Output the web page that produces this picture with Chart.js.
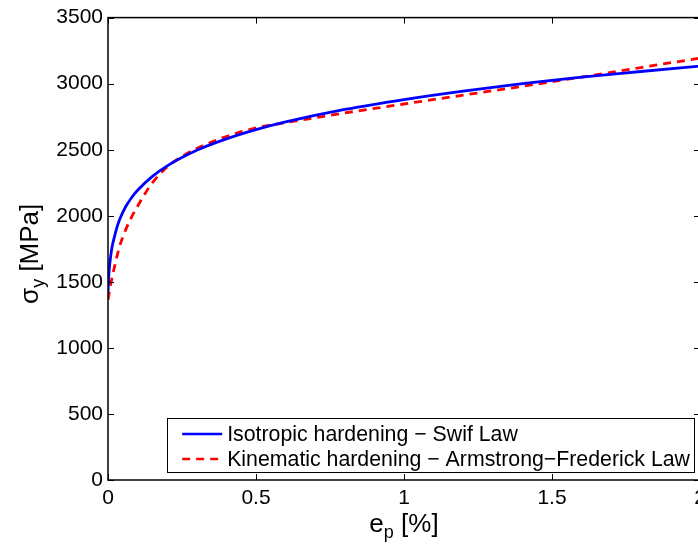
<!DOCTYPE html>
<html>
<head>
<meta charset="utf-8">
<script src="https://cdn.jsdelivr.net/npm/chart.js@4/dist/chart.umd.min.js"></script>
<style>
html,body{margin:0;padding:0;overflow:hidden;background:#fff;width:698px;height:548px}
#wrap{width:720px;height:548px;position:relative}
canvas{display:block}
</style>
</head>
<body>
<div id="wrap"><canvas id="c" width="720" height="548"></canvas></div>
<script>
// ---- data ----
const xTickLabels = ['0', '0.5', '1', '1.5', '2'];
const yTickLabels = ['0', '500', '1000', '1500', '2000', '2500', '3000', '3500'];

const seriesNames = ['Isotropic hardening \u2212 Swif Law', 'Kinematic hardening \u2212 Armstrong\u2212Frederick Law'];

const strainIso = [0, 0.003, 0.006, 0.01, 0.015, 0.02, 0.03, 0.04, 0.06, 0.08, 0.1, 0.15, 0.2, 0.3, 0.4, 0.5, 0.6, 0.8, 1.0, 1.2, 1.4, 1.6, 1.8, 2.0];
const stressIso = [1420, 1555, 1635, 1710, 1778, 1825, 1910, 1975, 2070, 2138, 2193, 2298, 2378, 2496, 2582, 2652, 2710, 2805, 2880, 2944, 3000, 3050, 3092, 3133];

const strainKin = [0, 0.005, 0.01, 0.02, 0.03, 0.04, 0.06, 0.08, 0.1, 0.12, 0.15, 0.2, 0.25, 0.3, 0.35, 0.4, 0.5, 0.6, 0.7, 0.8, 1.0, 1.2, 1.4, 1.6, 1.8, 2.0];
const stressKin = [1365, 1430, 1490, 1595, 1690, 1775, 1895, 1992, 2072, 2150, 2250, 2370, 2448, 2510, 2558, 2600, 2665, 2705, 2742, 2778, 2846, 2913, 2980, 3050, 3122, 3193];

const seriesColors = ['#0000ff', '#ff0000'];

const FONT = '"Liberation Sans", Arial, Helvetica, sans-serif';

function toPoints(xs, ys) { return xs.map((x, i) => ({x: x, y: ys[i]})); }

// ---- plugin: box, inward ticks, axis titles with subscripts, legend ----
const matlabDecor = {
  id: 'matlabDecor',
  afterDatasetsDraw(chart) {
    const ctx = chart.ctx;
    const a = chart.chartArea;
    const xs = chart.scales.x, ys = chart.scales.y;
    ctx.save();
    // inward ticks
    ctx.strokeStyle = '#000';
    ctx.lineWidth = 1;
    const tl = 6;
    xs.ticks.forEach(t => {
      const px = Math.round(xs.getPixelForValue(t.value)) + 0.5;
      ctx.beginPath();
      ctx.moveTo(px, a.bottom); ctx.lineTo(px, a.bottom - tl);
      ctx.moveTo(px, a.top); ctx.lineTo(px, a.top + tl);
      ctx.stroke();
    });
    ys.ticks.forEach(t => {
      const py = Math.round(ys.getPixelForValue(t.value)) + 0.5;
      ctx.beginPath();
      ctx.moveTo(a.left, py); ctx.lineTo(a.left + tl, py);
      ctx.moveTo(a.right, py); ctx.lineTo(a.right - tl, py);
      ctx.stroke();
    });
    // box
    ctx.lineWidth = 1.5;
    ctx.strokeStyle = '#000';
    ctx.strokeRect(a.left, a.top, a.right - a.left, a.bottom - a.top);

    // legend
    ctx.font = '21.3px ' + FONT;
    const tw = Math.max(...seriesNames.map(s => ctx.measureText(s).width));
    const boxRight = a.right - 6;
    const boxBottom = a.bottom - 8;
    const boxH = 54;
    const sampleLen = 40, padL = 15, gap = 5, padR = 4;
    const boxW = padL + sampleLen + gap + tw + padR;
    const boxLeft = boxRight - boxW;
    const boxTop = boxBottom - boxH;
    ctx.fillStyle = '#fff';
    ctx.fillRect(boxLeft, boxTop, boxW, boxH);
    ctx.lineWidth = 1;
    ctx.strokeStyle = '#000';
    ctx.strokeRect(Math.round(boxLeft) + 0.5, Math.round(boxTop) + 0.5, Math.round(boxW), Math.round(boxH));
    const rowY = [boxTop + 16, boxTop + 41];
    chart.data.datasets.forEach((ds, i) => {
      const y = rowY[i];
      ctx.beginPath();
      ctx.setLineDash(ds.borderDash || []);
      ctx.strokeStyle = ds.borderColor;
      ctx.lineWidth = 2.6;
      ctx.moveTo(boxLeft + padL, y);
      ctx.lineTo(boxLeft + padL + sampleLen, y);
      ctx.stroke();
      ctx.setLineDash([]);
      ctx.fillStyle = '#000';
      ctx.textBaseline = 'middle';
      ctx.textAlign = 'left';
      ctx.fillText(ds.label, boxLeft + padL + sampleLen + gap, y + 1);
    });

    // y axis title: sigma_y [MPa]
    ctx.fillStyle = '#000';
    ctx.textBaseline = 'alphabetic';
    ctx.save();
    const cy = (a.top + a.bottom) / 2 + 5;
    ctx.translate(38, cy);
    ctx.rotate(-Math.PI / 2);
    const big = '26px ' + FONT, small = '18px ' + FONT;
    ctx.font = big; const w1 = ctx.measureText('\u03c3').width;
    ctx.font = small; const w2 = ctx.measureText('y').width;
    ctx.font = big; const w3 = ctx.measureText(' [MPa]').width;
    let x0 = -(w1 + w2 + w3) / 2;
    ctx.font = big; ctx.fillText('\u03c3', x0, 0);
    ctx.font = small; ctx.fillText('y', x0 + w1, 6);
    ctx.font = big; ctx.fillText(' [MPa]', x0 + w1 + w2, 0);
    ctx.restore();

    // x axis title: e_p [%]
    const cx = (a.left + a.right) / 2;
    const by = a.bottom + 52;
    ctx.font = big; const v1 = ctx.measureText('e').width;
    ctx.font = small; const v2 = ctx.measureText('p').width;
    ctx.font = big; const v3 = ctx.measureText(' [%]').width;
    let sx = cx - (v1 + v2 + v3) / 2;
    ctx.font = big; ctx.fillText('e', sx, by);
    ctx.font = small; ctx.fillText('p', sx + v1, by + 6);
    ctx.font = big; ctx.fillText(' [%]', sx + v1 + v2, by);
    ctx.restore();
  }
};

new Chart(document.getElementById('c'), {
  type: 'line',
  data: {
    datasets: [
      {
        label: seriesNames[0],
        data: toPoints(strainIso, stressIso),
        borderColor: seriesColors[0],
        backgroundColor: seriesColors[0],
        borderWidth: 2.8,
        pointRadius: 0,
        fill: false,
        cubicInterpolationMode: 'monotone'
      },
      {
        label: seriesNames[1],
        data: toPoints(strainKin, stressKin),
        borderColor: seriesColors[1],
        backgroundColor: seriesColors[1],
        borderWidth: 2.8,
        borderDash: [8, 6],
        pointRadius: 0,
        fill: false,
        cubicInterpolationMode: 'monotone'
      }
    ]
  },
  options: {
    responsive: false,
    animation: false,
    devicePixelRatio: 1,
    layout: { padding: { top: 16, right: 20, left: 0, bottom: 0 } },
    plugins: { legend: { display: false }, tooltip: { enabled: false } },
    scales: {
      x: {
        type: 'linear',
        min: 0, max: 2,
        grid: { display: false, drawTicks: false },
        border: { display: false },
        ticks: {
          stepSize: 0.5,
          maxRotation: 0,
          padding: 6,
          color: '#000',
          font: { size: 21, family: FONT },
          callback: (v, i) => xTickLabels[i]
        },
        afterFit: s => { s.height = 68; }
      },
      y: {
        type: 'linear',
        min: 0, max: 3500,
        grid: { display: false, drawTicks: false },
        border: { display: false },
        ticks: {
          stepSize: 500,
          padding: 5,
          color: '#000',
          font: { size: 21, family: FONT },
          callback: (v, i) => yTickLabels[i]
        },
        afterFit: s => { s.width = 108; }
      }
    }
  },
  plugins: [matlabDecor]
});
</script>
</body>
</html>
